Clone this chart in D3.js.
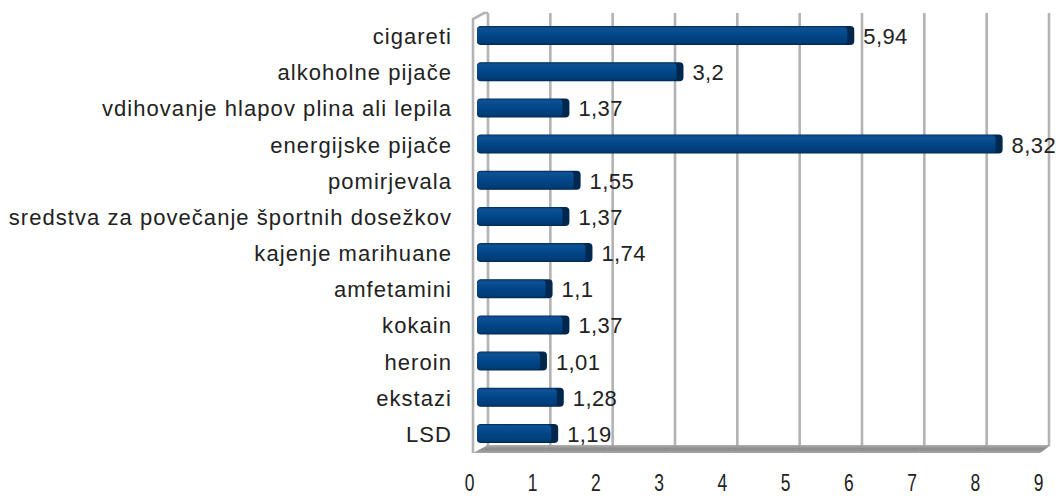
<!DOCTYPE html>
<html>
<head>
<meta charset="utf-8">
<script src="https://cdn.jsdelivr.net/npm/d3@7"></script>
<style>
  html, body { margin: 0; padding: 0; background: #fff; }
  svg { display: block; }
  text { font-family: "Liberation Sans", Arial, sans-serif; fill: #222; }
</style>
</head>
<body>
<svg id="chart" width="1064" height="496"></svg>
<script>
const categories = [
  "cigareti",
  "alkoholne pijače",
  "vdihovanje hlapov plina ali lepila",
  "energijske pijače",
  "pomirjevala",
  "sredstva za povečanje športnih dosežkov",
  "kajenje marihuane",
  "amfetamini",
  "kokain",
  "heroin",
  "ekstazi",
  "LSD"
];
const values = [5.94, 3.2, 1.37, 8.32, 1.55, 1.37, 1.74, 1.1, 1.37, 1.01, 1.28, 1.19];
const valueLabels = ["5,94", "3,2", "1,37", "8,32", "1,55", "1,37", "1,74", "1,1", "1,37", "1,01", "1,28", "1,19"];
const tickValues = [0, 1, 2, 3, 4, 5, 6, 7, 8, 9];

const svg = d3.select("#chart");

// scales
const y = d3.scaleBand().domain(categories).range([18, 452]).padding(0);
const xFront = d3.scaleLinear().domain([0, 9]).range([477, 1038]);   // bar front faces
const xBack = d3.scaleLinear().domain([0, 9]).range([488, 1049]);    // back wall grid
const xLabel = d3.scaleLinear().domain([0, 9]).range([469, 1038]);   // axis labels

const defs = svg.append("defs");
const grad = defs.append("linearGradient").attr("id", "barGrad")
  .attr("x1", 0).attr("y1", 0).attr("x2", 0).attr("y2", 1);
grad.append("stop").attr("offset", "0%").attr("stop-color", "#0a3f74");
grad.append("stop").attr("offset", "12%").attr("stop-color", "#0d5196");
grad.append("stop").attr("offset", "55%").attr("stop-color", "#004586");
grad.append("stop").attr("offset", "88%").attr("stop-color", "#003d77");
grad.append("stop").attr("offset", "100%").attr("stop-color", "#00305e");

const floorGrad = defs.append("linearGradient").attr("id", "floorGrad")
  .attr("x1", 0).attr("y1", 0).attr("x2", 0).attr("y2", 1);
floorGrad.append("stop").attr("offset", "0%").attr("stop-color", "#b0b0b0");
floorGrad.append("stop").attr("offset", "50%").attr("stop-color", "#8a8a8a");
floorGrad.append("stop").attr("offset", "100%").attr("stop-color", "#a8a8a8");

const gridTop = 13, gridBottom = 445, floorFront = 453;

// floor
svg.append("path")
  .attr("d", `M${xBack(0)},${gridBottom} L${xBack(9) + 2},${gridBottom} L${xLabel(9) + 2},${floorFront} L${xFront(0) - 4},${floorFront} Z`)
  .attr("fill", "url(#floorGrad)");

// back wall gridlines
svg.append("g").selectAll("line").data(tickValues).join("line")
  .attr("x1", d => xBack(d)).attr("x2", d => xBack(d))
  .attr("y1", gridTop).attr("y2", gridBottom)
  .attr("stroke", "#b3b3b3").attr("stroke-width", 2.6);

// floor diagonal grid
svg.append("g").selectAll("line").data(tickValues).join("line")
  .attr("x1", d => xBack(d)).attr("x2", d => xBack(d) - 8)
  .attr("y1", gridBottom).attr("y2", floorFront - 1)
  .attr("stroke", "#9a9a9a").attr("stroke-width", 1);

// left wall
svg.append("path")
  .attr("d", `M${xFront(0) - 4},${floorFront} L${xFront(0) - 4},${gridTop + 6} L${xBack(0) - 4},${gridTop} L${xBack(0)},${gridTop}`)
  .attr("fill", "none").attr("stroke", "#b3b3b3").attr("stroke-width", 2.6);

// bars
const bh = 19;
const bars = svg.append("g");
bars.selectAll("path.cap").data(values).join("path")
  .attr("class", "cap")
  .attr("d", (d, i) => {
    const x0 = xFront(0), x1 = xFront(d) + 7;
    const yc = y(categories[i]) + y.bandwidth() / 2;
    const y0 = yc - bh / 2 - 0.5;
    const r = 4;
    return `M${x0 + r},${y0} L${x1 - r},${y0} Q${x1},${y0} ${x1},${y0 + r} L${x1},${y0 + bh - r} Q${x1},${y0 + bh} ${x1 - r},${y0 + bh} L${x0 + r},${y0 + bh} Q${x0},${y0 + bh} ${x0},${y0 + bh - r} L${x0},${y0 + r} Q${x0},${y0} ${x0 + r},${y0} Z`;
  })
  .attr("fill", "#00284f");
bars.selectAll("rect.front").data(values).join("rect")
  .attr("class", "front")
  .attr("x", xFront(0))
  .attr("y", (d, i) => y(categories[i]) + y.bandwidth() / 2 - bh / 2)
  .attr("width", d => xFront(d) - xFront(0))
  .attr("height", bh - 1)
  .attr("rx", 4).attr("ry", 4)
  .attr("fill", "url(#barGrad)");

// value labels
svg.append("g").selectAll("text").data(values).join("text")
  .attr("x", d => xFront(d) + 16)
  .attr("y", (d, i) => y(categories[i]) + y.bandwidth() / 2)
  .attr("dy", "0.36em")
  .style("font-size", "22px")
  .style("letter-spacing", "0.4px")
  .text((d, i) => valueLabels[i]);

// category axis
const yAxis = d3.axisLeft(y).tickSize(0).tickPadding(0);
const gy = svg.append("g").attr("transform", "translate(452,0)").call(yAxis);
gy.select(".domain").remove();
gy.selectAll("text")
  .attr("font-family", null).attr("font-size", null)
  .style("font-size", "22px")
  .style("letter-spacing", "1.05px")
  .attr("dy", "0.36em")
  .attr("fill", "#222");

// value axis labels
const xAxis = d3.axisBottom(xLabel).tickValues(tickValues).tickFormat(d3.format("d")).tickSize(0).tickPadding(0);
const gx = svg.append("g").attr("transform", "translate(0,474)").call(xAxis);
gx.select(".domain").remove();
gx.selectAll("text")
  .attr("font-family", null).attr("font-size", null)
  .style("font-size", "23px")
  .attr("dy", "0.72em")
  .attr("transform", "scale(0.76,1)")
  .attr("fill", "#222");
</script>
</body>
</html>
